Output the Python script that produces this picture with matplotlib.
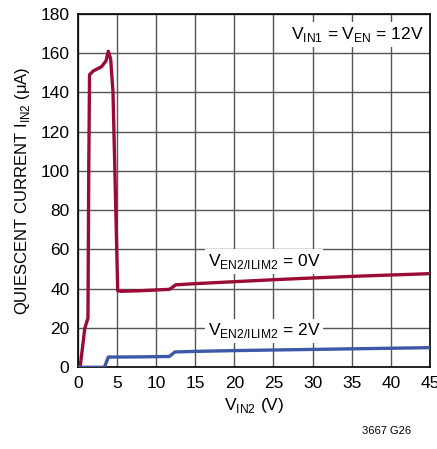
import matplotlib
matplotlib.use("Agg")
import matplotlib.pyplot as plt

fam = "Liberation Sans"
plt.rcParams['font.family'] = [fam, 'DejaVu Sans']
plt.rcParams['mathtext.fontset'] = 'custom'
plt.rcParams['mathtext.rm'] = fam

# EN2/ILIM2 = 0V
v_red = [0, 0.3, 0.9, 1.3, 1.4, 1.5, 2.0, 3.0, 3.6, 3.9, 4.2, 4.5, 5.1, 5.5, 8.0, 11.7, 12.0, 12.5, 15, 20, 25, 30, 35, 40, 45]
i_red = [0, 0, 20, 25, 100, 149, 151, 153, 156, 161, 157, 140, 39, 38.7, 39.0, 39.7, 40.5, 42, 42.6, 43.6, 44.6, 45.5, 46.3, 47.0, 47.7]
# EN2/ILIM2 = 2V
v_blue = [0, 3.4, 3.9, 8.0, 11.7, 12.0, 12.4, 15, 20, 25, 30, 35, 40, 45]
i_blue = [0, 0, 5.2, 5.3, 5.5, 6.5, 7.8, 8.1, 8.5, 8.8, 9.1, 9.4, 9.7, 10.0]

fig = plt.figure(figsize=(4.37, 4.49), dpi=100)
ax = fig.add_axes([0.178, 0.182, 0.806, 0.787])

ax.plot(v_red, i_red, color='#9a0c35', lw=2.4, zorder=3)
ax.plot(v_blue, i_blue, color='#3c58a6', lw=2.4, zorder=3)

ax.set_xlim(0, 45)
ax.set_ylim(0, 180)
ax.set_xticks(range(0, 46, 5))
ax.set_yticks(range(0, 181, 20))
ax.grid(True, color='#555555', lw=1.0)
ax.tick_params(length=0, labelsize=12.5, pad=6)
for s in ax.spines.values():
    s.set_color('black')
    s.set_linewidth(1.2)

ax.set_xlabel(r'V$_{\mathrm{IN2}}$ (V)', fontsize=12.5, labelpad=4)
ax.set_ylabel(r'QUIESCENT CURRENT I$_{\mathrm{IN2}}$ (μA)', fontsize=12, labelpad=6)

box = dict(facecolor='white', edgecolor='none', pad=2)
ax.text(44.2, 169.5, r'V$_{\mathrm{IN1}}$ = V$_{\mathrm{EN}}$ = 12V', fontsize=12.5,
        ha='right', va='center', bbox=box, zorder=4)
ax.text(23.8, 54, r'V$_{\mathrm{EN2/ILIM2}}$ = 0V', fontsize=12.5,
        ha='center', va='center', bbox=box, zorder=4)
ax.text(23.8, 18.5, r'V$_{\mathrm{EN2/ILIM2}}$ = 2V', fontsize=12.5,
        ha='center', va='center', bbox=box, zorder=4)

fig.text(0.94, 0.04, '3667 G26', fontsize=8, ha='right', va='center')

fig.savefig('out.png', dpi=100)
